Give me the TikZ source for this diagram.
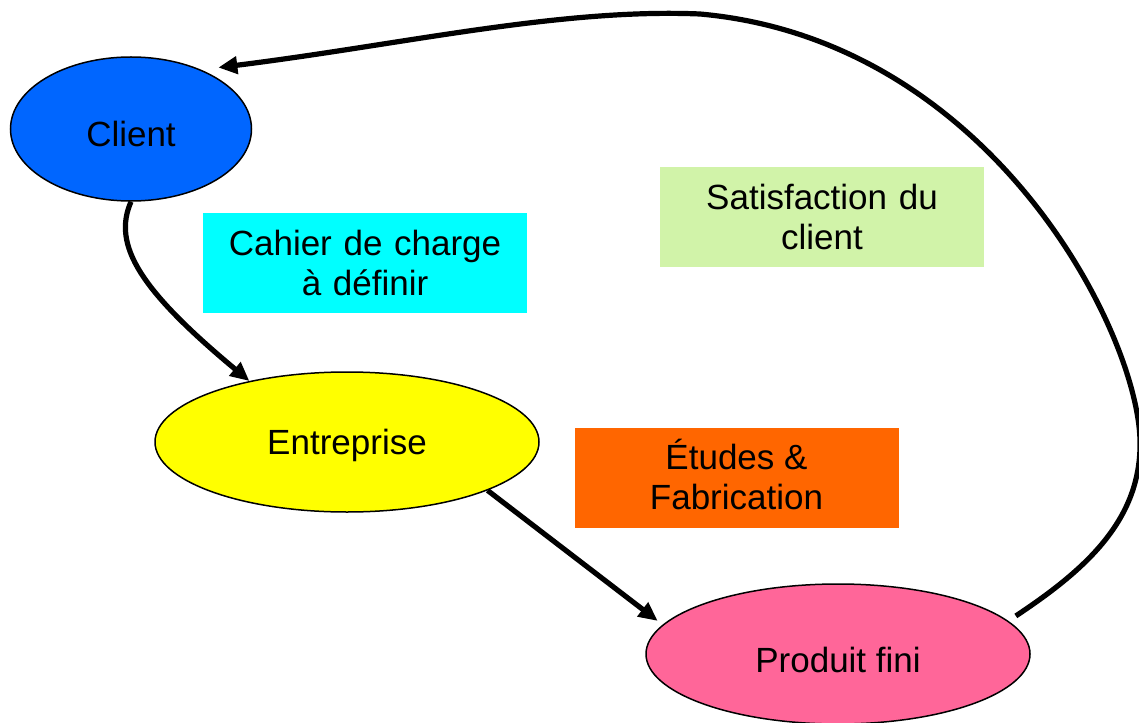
\documentclass[tikz,border=0pt]{standalone}
\usepackage{fontspec}
\setmainfont{Liberation Sans}
\usetikzlibrary{shapes.geometric,arrows.meta}
\definecolor{cblue}{HTML}{0066FF}
\definecolor{cyellow}{HTML}{FFFF00}
\definecolor{cpink}{HTML}{FF6699}
\definecolor{ccyan}{HTML}{00FFFF}
\definecolor{cgreen}{HTML}{D1F3A9}
\definecolor{corange}{HTML}{FF6600}
\begin{document}
\begin{tikzpicture}[x=1pt,y=-1pt,
  every node/.style={font=\fontsize{35}{40}\selectfont},
  oval/.style={ellipse,draw=black,line width=1.5pt,inner sep=0pt},
  labelbox/.style={rectangle,minimum width=324pt,minimum height=100pt,inner sep=0pt,text width=320pt,align=center},
  conn/.style={line width=5.2pt,-{Triangle[length=19pt,width=17pt]}}
]
\useasboundingbox (0,0) rectangle (1139,722);
% boxes
\node[labelbox,fill=ccyan] (cahier) at (365,263) {Cahier de charge\\à définir};
\node[labelbox,fill=cgreen] (satis) at (822,217) {Satisfaction du\\client};
\node[labelbox,fill=corange,
  label={[yshift=4pt,align=center,font=\fontsize{35}{40}\selectfont]center:Études \&\\Fabrication}] (etudes) at (736.5,478) {};
% ellipses
\node[oval,fill=cblue,minimum width=241pt,minimum height=144pt,
  label={[yshift=-5pt,font=\fontsize{35}{40}\selectfont]center:Client}] (client) at (131,129) {};
\node[oval,fill=cyellow,minimum width=384pt,minimum height=140pt,text depth=0pt] (ent) at (347,442) {Entreprise};
\node[oval,fill=cpink,minimum width=384pt,minimum height=140pt,
  label={[yshift=-6pt,font=\fontsize{35}{40}\selectfont]center:Produit fini}] (prod) at (838,654) {};
% connectors
\draw[conn] (client.south) .. controls (112,245) and (140,290) .. (ent.148);
\draw[conn] (ent.-19) -- ([xshift=-10pt]prod.169);
\draw[conn,shorten <=9pt] (prod.11) .. controls (1085,570) and (1142,520) .. (1140,440)
  .. controls (1137,330) and (990,40) .. (700,14)
  .. controls (560,8) and (400,45) .. ([yshift=11pt]client.30);
\end{tikzpicture}
\end{document}
